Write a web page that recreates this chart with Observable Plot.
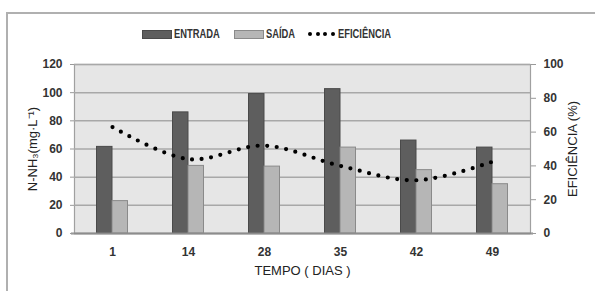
<!DOCTYPE html>
<html>
<head>
<meta charset="utf-8">
<script src="https://cdn.jsdelivr.net/npm/d3@7"></script>
<script src="https://cdn.jsdelivr.net/npm/@observablehq/plot@0.6"></script>
<style>
  html, body { margin: 0; padding: 0; background: #fff; }
  #wrap { position: relative; width: 595px; height: 291px; overflow: hidden; }
  #frame { position: absolute; left: 6px; top: 12px; width: 600px; height: 300px;
           border-top: 2px solid #b0b0b0; border-left: 2px solid #b0b0b0; pointer-events: none; }
  #legend { position: relative; height: 48px; font-family: "Liberation Sans", Arial, sans-serif;
            font-size: 12px; font-weight: bold; color: #333; }
  .item { position: absolute; top: 28px; height: 12px; display: flex; align-items: center; white-space: nowrap; }
  .lbl { display: inline-block; transform: scaleX(0.78); transform-origin: left center; }
  .sw { display: inline-block; width: 30px; height: 9px; margin-right: 2px; box-sizing: border-box; }
  .dot { display: inline-block; width: 4px; height: 4px; border-radius: 50%; background: #000; margin-right: 3.5px; }
  svg { display: block; }
</style>
</head>
<body>
<div id="wrap">
  <div id="legend"></div>
  <div id="chart"></div>
  <div id="frame"></div>
</div>
<script>
const days = ["1", "14", "28", "35", "42", "49"];
const entrada = [61.5, 86, 99, 102.5, 66, 61];
const saida = [23, 48, 47.5, 61, 45, 35];
const eficiencia = [63, 44, 52, 40, 31.5, 42.5];
const leftTicks = [0, 20, 40, 60, 80, 100, 120];
const rightTicks = [0, 20, 40, 60, 80, 100];
const seriesNames = ["ENTRADA", "SAÍDA", "EFICIÊNCIA"];
const xTitle = "TEMPO ( DIAS )";
const yLeftTitle = "N-NH₃(mg·L⁻¹)";
const yRightTitle = "EFICIÊNCIA (%)";

const rows = days.map((d, i) => ({day: d, entrada: entrada[i], saida: saida[i], eff: eficiencia[i]}));
const k = 120 / 100; // right axis (0–100 %) onto left scale (0–120)

// Legend
const legend = document.getElementById("legend");
legend.innerHTML = `
  <div class="item" style="left:142px"><span class="sw" style="background:#5e5e5e;border:1px solid #4a4a4a"></span><span class="lbl">${seriesNames[0]}</span></div>
  <div class="item" style="left:234px"><span class="sw" style="background:#b6b6b6;border:1px solid #8a8a8a"></span><span class="lbl">${seriesNames[1]}</span></div>
  <div class="item" style="left:308px"><span class="dot"></span><span class="dot"></span><span class="dot"></span><span class="dot"></span><span class="lbl">${seriesNames[2]}</span></div>`;

const font = '"Liberation Sans", Arial, sans-serif';

const plot = Plot.plot({
  width: 595,
  height: 243,
  marginLeft: 74,
  marginRight: 65,
  marginTop: 16,
  marginBottom: 58,
  style: {fontFamily: font, fontSize: "12px", color: "#222", background: "transparent"},
  x: {type: "band", domain: days, padding: 0},
  y: {domain: [0, 120]},
  marks: [
    Plot.frame({fill: "#e6e6e6", stroke: "#a0a0a0", strokeWidth: 1.2}),
    Plot.ruleY(leftTicks, {stroke: "#a8a8a8", strokeWidth: 1.5}),
    Plot.barY(rows, {x: "day", y: "entrada", fill: "#5e5e5e", stroke: "#4a4a4a", strokeWidth: 1,
      insetLeft: 22.5, insetRight: 38}),
    Plot.barY(rows, {x: "day", y: "saida", fill: "#b6b6b6", stroke: "#8a8a8a", strokeWidth: 1,
      insetLeft: 38, insetRight: 22.5}),
    Plot.ruleY([0], {stroke: "#8c8c8c", strokeWidth: 2, insetLeft: -3, insetRight: -3}),
    Plot.line(rows, {x: "day", y: d => d.eff * k, curve: "catmull-rom", stroke: "#000",
      strokeWidth: 4.2, strokeLinecap: "round", strokeDasharray: "0 9.6"}),
    Plot.axisY(leftTicks, {anchor: "left", tickSize: 4, tickPadding: 8, stroke: "#999", label: null,
      fontWeight: "bold", fill: "#333"}),
    Plot.axisY(rightTicks.map(v => v * k), {anchor: "right", tickSize: 5, tickPadding: 8, stroke: "#999",
      tickFormat: v => String(Math.round(v / k)), label: null, fontWeight: "bold", fill: "#333"}),
    Plot.axisX({anchor: "bottom", tickSize: 0, tickPadding: 14, label: null, fontWeight: "bold", fill: "#333"}),
    Plot.text([xTitle], {frameAnchor: "bottom", dy: 41, text: d => d, fontSize: 13, fill: "#222", textAnchor: "middle"}),
    Plot.text([yLeftTitle], {frameAnchor: "left", dx: -42, rotate: -90, text: d => d, fontSize: 13, fill: "#222", textAnchor: "middle"}),
    Plot.text([yRightTitle], {frameAnchor: "right", dx: 42, rotate: -90, text: d => d, fontSize: 13, fill: "#222", textAnchor: "middle"})
  ]
});
document.getElementById("chart").appendChild(plot);
</script>
</body>
</html>
